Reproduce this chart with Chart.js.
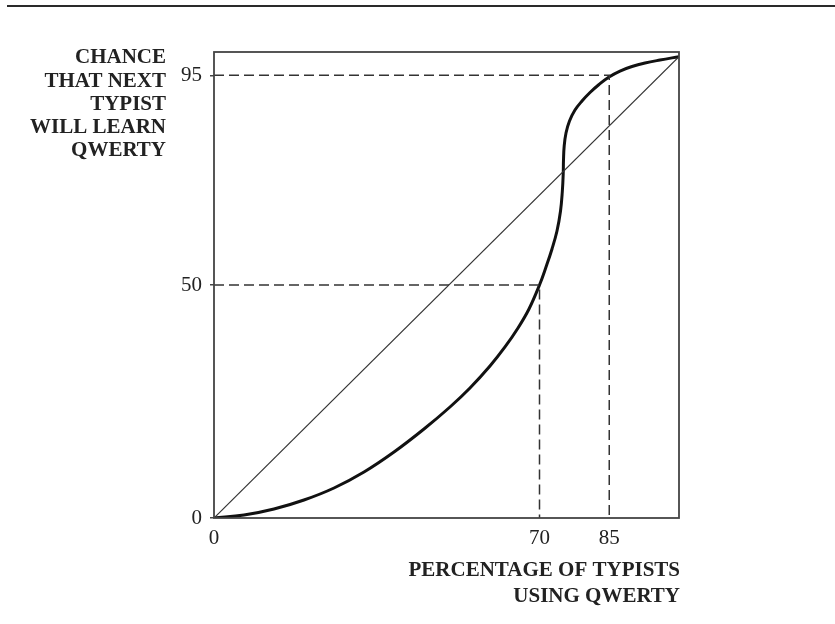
<!DOCTYPE html>
<html>
<head>
<meta charset="utf-8">
<script src="https://cdn.jsdelivr.net/npm/chart.js@4/dist/chart.umd.min.js"></script>
<style>
  body { margin: 0; background: #fff; overflow: hidden; }
  #wrap { position: relative; width: 835px; height: 624px; }
  #rule { position: absolute; top: 5px; left: 7px; right: 0; height: 2px; background: #2a2a2a; }
</style>
</head>
<body>
<div id="wrap">
  <div id="rule"></div>
  <canvas id="chart" width="835" height="624"></canvas>
</div>
<script>
// tick labels
const xTicks = [0, 70, 85];
const yTicks = [0, 50, 95];

// the S-shaped curve
const curveX = [0, 6.45, 12.9, 19.35, 25.81, 32.26, 38.71, 45.16, 50.75, 55.05, 59.35, 62.58, 65.38, 67.74, 70,
    71.4, 72.69, 73.76, 74.52, 74.9, 75.1, 75.16, 75.31, 75.7, 76.45, 77.63, 79.14, 80.86, 82.8, 84.95,
    87.31, 89.89, 92.69, 95.91, 100];
const curveY = [0, 0.64, 1.93, 3.86, 6.44, 9.87, 14.16, 19.1, 23.82, 27.9, 32.62, 36.7, 40.77, 44.85, 50,
    53.86, 57.73, 61.59, 65.88, 69.96, 73.82, 76.82, 79.83, 82.62, 85.19, 87.55, 89.48, 91.31, 93.03, 94.64,
    95.92, 96.89, 97.64, 98.28, 99];

// straight diagonal
const diagX = [0, 100];
const diagY = [0, 99];

// dashed guide lines
const guide95X = [0, 85, 85];
const guide95Y = [95, 95, 0];
const guide50X = [0, 70, 70];
const guide50Y = [50, 50, 0];

const yTitle = ['CHANCE', 'THAT NEXT', 'TYPIST', 'WILL LEARN', 'QWERTY'];
const xTitle = ['PERCENTAGE OF TYPISTS', 'USING QWERTY'];

function toPoints(xs, ys) {
    return xs.map((x, i) => ({ x: x, y: ys[i] }));
}

const serif = '"Liberation Serif", "DejaVu Serif", serif';

// box around the plot and the two axis titles
const framePlugin = {
    id: 'frame',
    afterDraw(chart) {
        const ctx = chart.ctx;
        const a = chart.chartArea;
        ctx.save();
        ctx.strokeStyle = '#444';
        ctx.lineWidth = 1.8;
        ctx.strokeRect(a.left, a.top, a.right - a.left, a.bottom - a.top);

        ctx.fillStyle = '#222';
        ctx.font = 'bold 21px ' + serif;
        ctx.textAlign = 'right';
        ctx.textBaseline = 'middle';
        yTitle.forEach((line, i) => {
            ctx.fillText(line, 166, 58 + i * 23.25);
        });
        xTitle.forEach((line, i) => {
            ctx.fillText(line, a.right + 1, 571 + i * 26);
        });
        ctx.restore();
    }
};

const dashed = {
    showLine: true,
    borderColor: '#333',
    borderWidth: 1.5,
    borderDash: [10, 5],
    pointRadius: 0,
    tension: 0
};

new Chart(document.getElementById('chart'), {
    type: 'scatter',
    data: {
        datasets: [
            Object.assign({ data: toPoints(guide95X, guide95Y) }, dashed),
            Object.assign({ data: toPoints(guide50X, guide50Y) }, dashed),
            {
                data: toPoints(diagX, diagY),
                showLine: true,
                borderColor: '#333',
                borderWidth: 1.2,
                pointRadius: 0
            },
            {
                data: toPoints(curveX, curveY),
                showLine: true,
                borderColor: '#111',
                borderWidth: 3,
                pointRadius: 0,
                tension: 0.4
            }
        ]
    },
    options: {
        responsive: false,
        animation: false,
        layout: { padding: { top: 52, right: 156, left: 0, bottom: 0 } },
        plugins: {
            legend: { display: false },
            tooltip: { enabled: false }
        },
        scales: {
            x: {
                type: 'linear',
                min: 0,
                max: 100,
                grid: { display: false, drawTicks: false },
                border: { display: false },
                afterBuildTicks: axis => { axis.ticks = xTicks.map(v => ({ value: v })); },
                afterFit: axis => { axis.height = 106; },
                ticks: {
                    padding: 8,
                    color: '#222',
                    font: { family: serif, size: 21 },
                    maxRotation: 0,
                    autoSkip: false
                }
            },
            y: {
                type: 'linear',
                min: 0,
                max: 100,
                grid: { display: true, drawOnChartArea: false, drawTicks: true, tickLength: 4, color: '#444', lineWidth: 1.5 },
                border: { display: false },
                afterBuildTicks: axis => { axis.ticks = yTicks.map(v => ({ value: v })); },
                afterFit: axis => { axis.width = 214; },
                ticks: {
                    padding: 8,
                    color: '#222',
                    font: { family: serif, size: 21 },
                    autoSkip: false
                }
            }
        }
    },
    plugins: [framePlugin]
});
</script>
</body>
</html>
